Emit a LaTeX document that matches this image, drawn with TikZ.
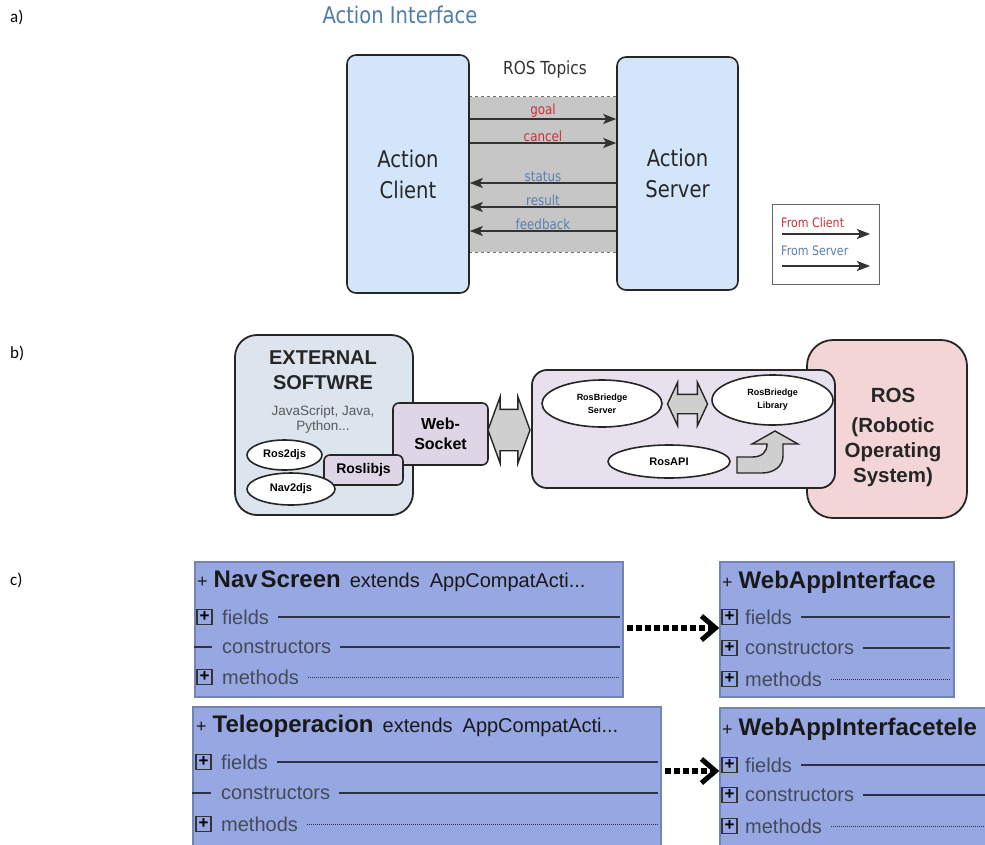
\documentclass[tikz,border=0pt]{standalone}
\usepackage{fontspec}
\setmainfont{Liberation Sans}
\newfontfamily\dejavu[FakeStretch=0.85]{DejaVu Sans}
\newfontfamily\tagfont{Carlito}
\usepackage{tikz}
\usetikzlibrary{positioning,arrows.meta,shapes.geometric,shapes.arrows}
\newcommand\pxfont[2]{\fontsize{#1}{#2}\selectfont}
\definecolor{clientblue}{HTML}{D2E5F9}
\definecolor{bandgray}{HTML}{C6C6C6}
\definecolor{fromclient}{HTML}{C8323C}
\definecolor{fromserver}{HTML}{5A7FAE}
\definecolor{titleblue}{HTML}{4F7DAA}
\definecolor{extblue}{HTML}{DCE4EE}
\definecolor{sockpurple}{HTML}{DED6E6}
\definecolor{bridgepurple}{HTML}{E6E1EC}
\definecolor{rospink}{HTML}{F3D5D6}
\definecolor{arrowgray}{HTML}{CFCFCF}
\definecolor{classblue}{HTML}{97A7E2}
\definecolor{classedge}{HTML}{7383B4}
\definecolor{rowgray}{HTML}{434A5A}

\begin{document}
\begin{tikzpicture}[x=1pt,y=-1pt,
    tag/.style={font=\tagfont\pxfont{17}{20},anchor=west,inner sep=0pt},
    actbox/.style={%
      draw=black!85,
      line width=1.6pt,
      rounded corners=9pt,
      fill=clientblue,
      align=center,
      text=black!85,
      font=\dejavu\pxfont{23}{31},
      inner sep=0pt,
    },
    band/.style={fill=bandgray,minimum width=148pt,minimum height=155pt,inner sep=0pt},
    bandedge/.style={draw=black!55,dashed,line width=0.8pt},
    msglabel/.style={font=\dejavu\pxfont{14}{16},anchor=south,inner sep=1.5pt},
    msg/.style={draw=black!80,line width=1.6pt,-{Stealth[length=13pt,width=10pt,inset=3pt]}},
    legendbox/.style={draw=black!60,line width=1pt,minimum width=107pt,minimum height=80pt,inner sep=0pt},
    legendlabel/.style={font=\dejavu\pxfont{13}{15},anchor=south west,inner sep=1pt},
    softbox/.style={%
      draw=black!85,
      line width=1.8pt,
      rounded corners=22pt,
      fill=extblue,
      inner sep=0pt,
    },
    head/.style={font=\bfseries\pxfont{20}{25},align=center,text=black!85},
    lang/.style={font=\pxfont{13.5}{15},align=center,text=black!65},
    sockbox/.style={%
      draw=black!85,
      line width=1.6pt,
      rounded corners=6pt,
      fill=sockpurple,
      align=center,
      font=\bfseries\pxfont{16}{20},
      inner sep=0pt,
    },
    oval/.style={ellipse,draw=black!85,line width=1.6pt,fill=white,align=center,inner sep=0pt,font=\bfseries\pxfont{11}{13}},
    link/.style={double arrow,draw=black!85,line width=1.4pt,fill=arrowgray,inner xsep=0pt},
    bentarrow/.style={draw=black!85,line width=1.4pt,fill=arrowgray},
    cls/.style={draw=classedge,line width=1.4pt,fill=classblue,inner sep=0pt},
    clsname/.style={anchor=west,inner sep=0pt,text=black!90},
    plusbox/.style={draw=black!80,line width=1.3pt,minimum width=15pt,minimum height=15pt,inner sep=0pt,font=\bfseries\pxfont{17}{17}},
    rowtext/.style={anchor=west,inner sep=0pt,text=rowgray,font=\pxfont{20}{22}},
    rowline/.style={draw=black!70!classblue,line width=1.8pt},
    dotrow/.style={draw=black!70!classblue,line width=0.8pt,dash pattern=on 1pt off 1pt},
    dep/.style={draw=black,line width=5.5pt,dash pattern=on 5.5pt off 3.5pt,-{Straight Barb[length=14pt,width=24pt,line width=5pt]}},
  ]

    \useasboundingbox (0,0) rectangle (985,844);
    \clip (0,0) rectangle (985,844);
    \fill[white] (0,0) rectangle (985,844);

    \node [tag] (taga) at (10,17) {a)};
    \node [tag] (tagb) at (10,353) {b)};
    \node [tag] (tagc) at (10,580) {c)};

    \node [font=\dejavu\pxfont{23}{26},text=titleblue] (title) at (400,15) {Action Interface};
    \node [band] (topics) at (543,174.5) {};
    \draw [bandedge] (topics.north west) -- (topics.north east);
    \draw [bandedge] (topics.south west) -- (topics.south east);
    \node [actbox,minimum width=122pt,minimum height=238pt] (client) at (408,174) {Action\\Client};
    \node [actbox,minimum width=121pt,minimum height=233pt] (server) at (677.5,173.5) {Action\\Server};
    \node [font=\dejavu\pxfont{18}{20},text=black!80] (rostopics) at (545,70) {ROS Topics};

    \node [msglabel,text=fromclient] (goal) at (543,119) {goal};
    \node [msglabel,text=fromclient] (cancel) at (543,143) {cancel};
    \node [msglabel,text=fromserver] (status) at (543,183) {status};
    \node [msglabel,text=fromserver] (result) at (543,207) {result};
    \node [msglabel,text=fromserver] (feedback) at (543,231) {feedback};

    \draw [msg] (client.east |- goal.south) -- (server.west |- goal.south);
    \draw [msg] (client.east |- cancel.south) -- (server.west |- cancel.south);
    \draw [msg] (server.west |- status.south) -- (client.east |- status.south);
    \draw [msg] (server.west |- result.south) -- (client.east |- result.south);
    \draw [msg] (server.west |- feedback.south) -- (client.east |- feedback.south);

    \node [legendbox] (legend) at (825.5,244) {};
    \node [legendlabel,text=fromclient] (fc) at (780,229) {From Client};
    \node [legendlabel,text=fromserver] (fs) at (780,257) {From Server};
    \coordinate (fcA) at (782,234);
    \coordinate (fcB) at (870,234);
    \coordinate (fsA) at (782,266);
    \coordinate (fsB) at (870,266);
    \draw [msg] (fcA) -- (fcB);
    \draw [msg] (fsA) -- (fsB);

    \node [softbox,minimum width=178pt,minimum height=180pt] (ext) at (324,425) {};
    \node [head] (exttitle) at (323,370.5) {EXTERNAL\\SOFTWRE};
    \node [lang] (extlang) at (323,420) {JavaScript, Java,\\Python...};
    \node [sockbox,minimum width=95pt,minimum height=62pt] (ws) at (440.5,434) {Web-\\Socket};
    \node [sockbox,minimum width=79pt,minimum height=30pt,font=\bfseries\pxfont{14}{16}] (roslib) at (363.5,470) {Roslibjs};
    \node [oval,minimum width=75pt,minimum height=30pt] (ros2) at (284.5,455) {Ros2djs};
    \node [oval,minimum width=88pt,minimum height=32pt] (nav2) at (291,489) {Nav2djs};

    \node [softbox,fill=rospink,rounded corners=26pt,minimum width=160pt,minimum height=178pt] (ros) at (887,429) {};
    \node [font=\bfseries\pxfont{20.5}{25},align=center,text=black!85] (rostxt) at (893,437) {ROS\\[5pt](Robotic\\Operating\\System)};
    \node [softbox,fill=bridgepurple,rounded corners=15pt,minimum width=303pt,minimum height=118pt] (bridge) at (683.5,429) {};
    \node [oval,minimum width=120pt,minimum height=47pt,font=\bfseries\pxfont{9}{13}] (srv) at (602,403.5) {RosBriedge\\Server};
    \node [oval,minimum width=121pt,minimum height=50pt,font=\bfseries\pxfont{9}{13}] (lib) at (772.5,400) {RosBriedge\\Library};
    \node [oval,minimum width=122pt,minimum height=33pt] (api) at (669,461.5) {RosAPI};

    \node [link,inner ysep=20pt,minimum height=42pt,double arrow head extend=12.5pt,double arrow tip angle=140] (wslink) at (509,430) {};
    \node [link,inner ysep=9pt,minimum height=40pt,double arrow head extend=12pt,double arrow tip angle=130] (srvlink) at (687.5,404) {};
    \draw [bentarrow] (737,457) -- (752,457) .. controls (762,457) and (767,452) .. (767,444)
      -- (752,444) -- (775,431) -- (798,444) -- (783,444) -- (783,456)
      .. controls (783,466) and (774,473) .. (762,473) -- (737,473) -- cycle;

    \node [cls,minimum width=428pt,minimum height=135pt] (nav) at (409,629.5) {};
    \node [cls,minimum width=234pt,minimum height=135pt] (web) at (837,629.5) {};
    \node [cls,minimum width=468pt,minimum height=143pt] (tele) at (427,778.5) {};
    \node [cls,minimum width=290pt,minimum height=142pt] (webtele) at (865,779) {};

    \node [clsname] (navname) at (197,581) {{\pxfont{18}{20}+}\hspace{6pt}{\bfseries\pxfont{24}{26}Nav\hspace{3pt}Screen}\hspace{9pt}{\pxfont{20}{22}extends\hspace{10pt}AppCompatActi...}};
    \node [plusbox] (navfi) at (204.5,617) {+};
    \node [rowtext] (navf) at (222,617) {fields};
    \node [rowtext] (navc) at (222,647) {constructors};
    \node [plusbox] (navmi) at (204.5,677) {+};
    \node [rowtext] (navm) at (222,677) {methods};
    \draw [rowline,shorten <=9pt,shorten >=4pt] (navf.east) -- (navf.east -| nav.east);
    \draw [rowline,shorten >=10pt] (nav.west |- navc.west) -- (navc.west);
    \draw [rowline,shorten <=9pt,shorten >=4pt] (navc.east) -- (navc.east -| nav.east);
    \draw [dotrow,shorten <=9pt,shorten >=4pt] (navm.east) -- (navm.east -| nav.east);

    \node [clsname] (webname) at (722,582) {{\pxfont{18}{20}+}\hspace{6pt}{\bfseries\pxfont{24}{26}WebAppInterface}};
    \node [plusbox] (webfi) at (729.5,617) {+};
    \node [rowtext] (webf) at (745,617) {fields};
    \node [plusbox] (webci) at (729.5,648) {+};
    \node [rowtext] (webc) at (745,648) {constructors};
    \node [plusbox] (webmi) at (729.5,679) {+};
    \node [rowtext] (webm) at (745,679) {methods};
    \draw [rowline,shorten <=9pt,shorten >=5pt] (webf.east) -- (webf.east -| web.east);
    \draw [rowline,shorten <=9pt,shorten >=5pt] (webc.east) -- (webc.east -| web.east);
    \draw [dotrow,shorten <=9pt,shorten >=5pt] (webm.east) -- (webm.east -| web.east);

    \node [clsname] (telename) at (196,726) {{\pxfont{18}{20}+}\hspace{6pt}{\bfseries\pxfont{24}{26}Teleoperacion}\hspace{9pt}{\pxfont{20}{22}extends\hspace{10pt}AppCompatActi...}};
    \node [plusbox] (telefi) at (203.5,762) {+};
    \node [rowtext] (telef) at (221,762) {fields};
    \node [rowtext] (telec) at (221,793) {constructors};
    \node [plusbox] (telemi) at (203.5,824) {+};
    \node [rowtext] (telem) at (221,824) {methods};
    \draw [rowline,shorten <=9pt,shorten >=4pt] (telef.east) -- (telef.east -| tele.east);
    \draw [rowline,shorten >=10pt] (tele.west |- telec.west) -- (telec.west);
    \draw [rowline,shorten <=9pt,shorten >=4pt] (telec.east) -- (telec.east -| tele.east);
    \draw [dotrow,shorten <=9pt,shorten >=4pt] (telem.east) -- (telem.east -| tele.east);

    \node [clsname] (webtelename) at (722,729) {{\pxfont{18}{20}+}\hspace{6pt}{\bfseries\pxfont{24}{26}WebAppInterfacetele}};
    \node [plusbox] (webtelefi) at (729.5,765) {+};
    \node [rowtext] (webtelef) at (745,765) {fields};
    \node [plusbox] (webteleci) at (729.5,795) {+};
    \node [rowtext] (webtelec) at (745,795) {constructors};
    \node [plusbox] (webtelemi) at (729.5,826) {+};
    \node [rowtext] (webtelem) at (745,826) {methods};
    \draw [rowline,shorten <=9pt] (webtelef.east) -- (webtelef.east -| webtele.east);
    \draw [rowline,shorten <=9pt] (webtelec.east) -- (webtelec.east -| webtele.east);
    \draw [dotrow,shorten <=9pt] (webtelem.east) -- (webtelem.east -| webtele.east);

    \coordinate (navout) at (623,628);
    \coordinate (teleout) at (661,771);
    \draw [dep,shorten <=4pt] (navout) -- (navout -| web.west);
    \draw [dep,shorten <=4pt] (teleout) -- (teleout -| webtele.west);
\end{tikzpicture}
\end{document}
